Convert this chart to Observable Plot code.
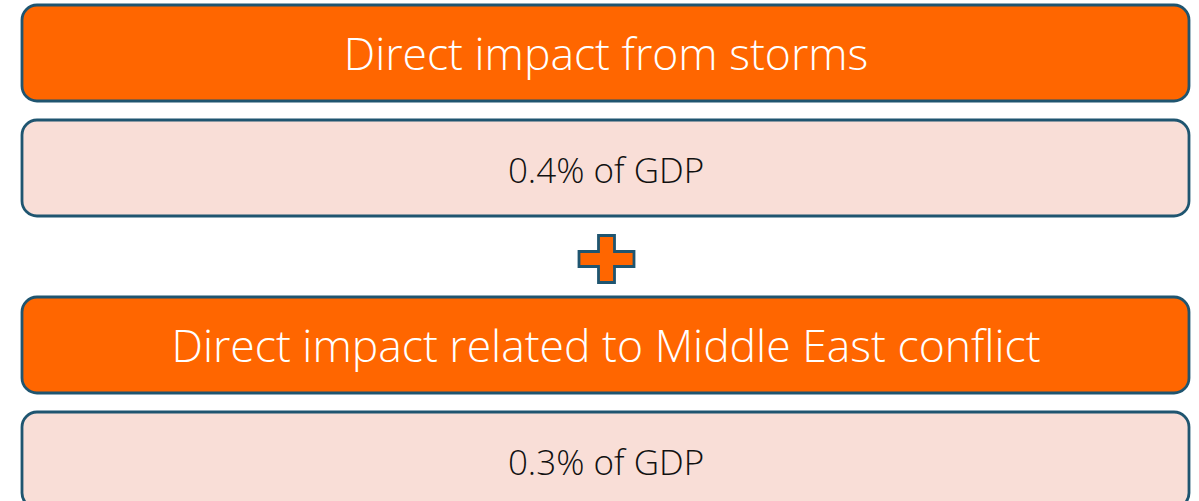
<!DOCTYPE html>
<html>
<head>
<meta charset="utf-8">
<script src="https://cdn.jsdelivr.net/npm/d3@7"></script>
<script src="https://cdn.jsdelivr.net/npm/@observablehq/plot@0.6"></script>
<style>
  html, body { margin: 0; padding: 0; background: #fff; }
  #chart svg { display: block; }
</style>
</head>
<body>
<div id="chart"></div>
<script>
// ---- data ----
const impacts = ["Direct impact from storms", "Direct impact related to Middle East conflict"];
const shares = [0.4, 0.3];           // % of GDP
const unitLabel = "% of GDP";

// ---- layout (styling) ----
const W = 1199, H = 501;
const boxLeft = 22, boxRight = 1189, boxH = 96;
const groupTops = [5, 297];          // top of each header box
const valueOffset = 115;             // header top -> value box top
const orange = "#FF6600", pink = "#F9DED7", edge = "#1F5570";

const boxes = [];
impacts.forEach((name, i) => {
  const t = groupTops[i];
  boxes.push({kind: "head", label: name, y1: t, y2: t + boxH});
  boxes.push({kind: "value", label: d3.format(".1f")(shares[i]) + unitLabel, y1: t + valueOffset, y2: t + valueOffset + boxH});
});
const plusData = [{x: (boxLeft + boxRight) / 2 + 0.5, y: (boxes[1].y2 + boxes[2].y1) / 2 + 2}];

// custom plus symbol (wider than tall, like the reference)
const plusSymbol = {
  draw(ctx) {
    const hw = 27.5, hh = 23.5, aw = 8, ah = 7.5;
    ctx.moveTo(-aw, -hh); ctx.lineTo(aw, -hh); ctx.lineTo(aw, -ah);
    ctx.lineTo(hw, -ah); ctx.lineTo(hw, ah); ctx.lineTo(aw, ah);
    ctx.lineTo(aw, hh); ctx.lineTo(-aw, hh); ctx.lineTo(-aw, ah);
    ctx.lineTo(-hw, ah); ctx.lineTo(-hw, -ah); ctx.lineTo(-aw, -ah);
    ctx.closePath();
  }
};

const fontFamily = "'Open Sans', 'Segoe UI', sans-serif";

const chart = Plot.plot({
  width: W,
  height: H,
  margin: 0,
  x: {domain: [0, W], range: [0, W], axis: null},
  y: {domain: [0, H], range: [0, H], axis: null},
  style: {fontFamily, background: "#fff"},
  marks: [
    Plot.rect(boxes, {
      x1: boxLeft, x2: boxRight, y1: "y1", y2: "y2",
      fill: d => d.kind === "head" ? orange : pink,
      stroke: edge, strokeWidth: 2.8, rx: 15
    }),
    Plot.text(boxes.filter(d => d.kind === "head"), {
      x: (boxLeft + boxRight) / 2, y: d => (d.y1 + d.y2) / 2 + 2,
      text: "label", fill: "white", fontSize: 44.5, fontWeight: 300, fontFamily
    }),
    Plot.text(boxes.filter(d => d.kind === "value"), {
      x: (boxLeft + boxRight) / 2, y: d => (d.y1 + d.y2) / 2 + 3,
      text: "label", fill: "#111", fontSize: 35, fontWeight: 300, fontFamily
    }),
    Plot.dot(plusData, {
      x: "x", y: "y", symbol: plusSymbol, r: 10,
      fill: orange, stroke: edge, strokeWidth: 2.8
    })
  ]
});
document.getElementById("chart").appendChild(chart);
</script>
</body>
</html>
